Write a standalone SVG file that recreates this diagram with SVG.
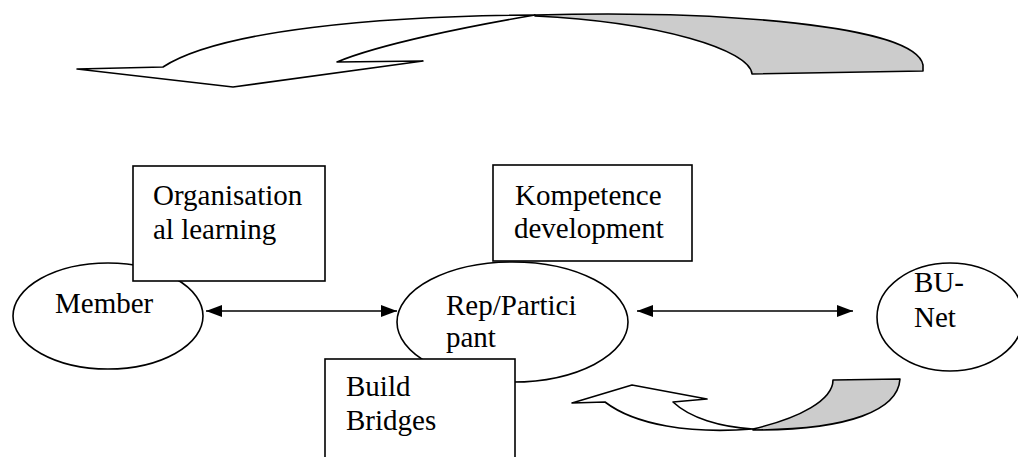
<svg xmlns="http://www.w3.org/2000/svg" width="1018" height="457" viewBox="0 0 1018 457">
<style>
.shape{stroke:#000;stroke-width:1.6;stroke-linejoin:round;}
.white{fill:#fff;}
.gray{fill:#ccc;}
.box{fill:#fff;stroke:#000;stroke-width:1.6;}
.node{fill:#fff;stroke:#000;stroke-width:1.6;}
text{font-family:'Liberation Serif','Times New Roman','DejaVu Serif',serif;font-size:29px;fill:#000;}
.conn{stroke:#000;stroke-width:1.6;fill:none;}
</style>
<defs>
<marker id="ah" viewBox="0 0 16 12" refX="16" refY="6" markerWidth="16" markerHeight="12" markerUnits="userSpaceOnUse" orient="auto-start-reverse">
<path d="M0,0 L16,6 L0,12 Z" fill="#000"/>
</marker>
</defs>
<g id="top-curved-arrow">
<path class="shape gray" d="M535,15 C720,10 915,25 923,65 L923,71 L752,74 C750,50 660,22 535,16 Z"/>
<path class="shape white" d="M77,69 L163,67 C220,30 380,16 535,15 C470,26 380,44 337,62 L423,61 L233,87 Z"/>
</g>
<g id="bottom-curved-arrow">
<path class="shape gray" d="M753,429 C800,418 833,400 833,380 L900,379 C898,410 850,430 753,430 Z"/>
<path class="shape white" d="M572,403 L632,385 L707,399 L673,402 C690,418 720,427 753,429 C690,434 635,425 605,402 Z"/>
</g>
<g id="member">
<ellipse class="node" cx="108" cy="316" rx="95" ry="53"/>
<text x="55" y="313">Member</text>
</g>
<g id="rep-participant">
<ellipse class="node" cx="512.5" cy="322" rx="115.5" ry="60"/>
<text x="446" y="315">Rep/Partici</text>
<text x="446" y="347">pant</text>
</g>
<g id="bu-net">
<ellipse class="node" cx="950" cy="317" rx="73" ry="54"/>
<text x="914" y="292">BU-</text>
<text x="914" y="327">Net</text>
</g>
<g id="organisational-learning">
<rect class="box" x="133" y="166" width="192" height="115"/>
<text x="153" y="205">Organisation</text>
<text x="153" y="239">al learning</text>
</g>
<g id="kompetence-development">
<rect class="box" x="493" y="165" width="199" height="96"/>
<text x="515" y="205">Kompetence</text>
<text x="514" y="238">development</text>
</g>
<g id="build-bridges">
<rect class="box" x="325" y="359" width="190" height="120"/>
<text x="346" y="396">Build</text>
<text x="346" y="430">Bridges</text>
</g>
<g id="connectors">
<line class="conn" x1="206" y1="311" x2="397" y2="311" marker-start="url(#ah)" marker-end="url(#ah)"/>
<line class="conn" x1="637" y1="311" x2="853" y2="311" marker-start="url(#ah)" marker-end="url(#ah)"/>
</g>
</svg>
